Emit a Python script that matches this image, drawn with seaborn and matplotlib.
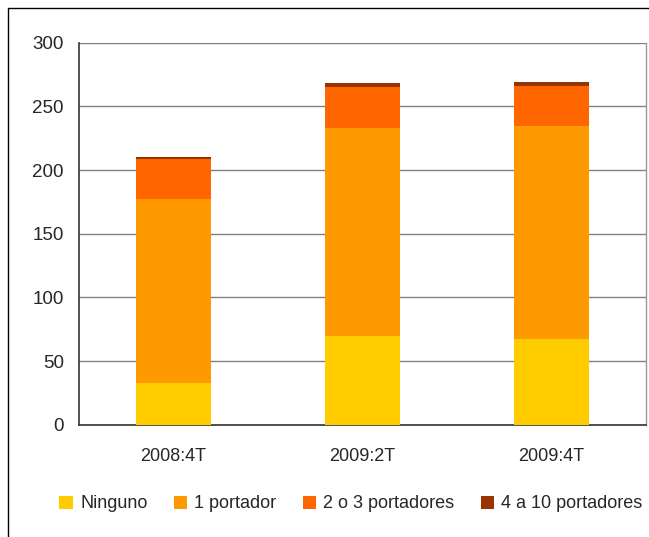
import matplotlib
matplotlib.use("Agg")
import matplotlib.pyplot as plt
import seaborn as sns
import numpy as np
import pandas as pd
from matplotlib.patches import Patch, Rectangle

periodos = ["2008:4T", "2009:2T", "2009:4T"]
series = ["Ninguno", "1 portador", "2 o 3 portadores", "4 a 10 portadores"]
ninguno = [33, 70, 67.3]
uno = [144.3, 163, 167.3]
dos_tres = [31.4, 32.2, 31.5]
cuatro_diez = [1.6, 3.1, 3.1]
colores = ["#FFCC00", "#FF9900", "#FF6600", "#993300"]
y_ticks = [0, 50, 100, 150, 200, 250, 300]

sns.set_style("white")
plt.rcParams["font.family"] = ["Liberation Sans", "DejaVu Sans"]

df = pd.DataFrame({"periodo": periodos, "Ninguno": ninguno, "1 portador": uno,
                   "2 o 3 portadores": dos_tres, "4 a 10 portadores": cuatro_diez})
acum = df[series].cumsum(axis=1)

fig = plt.figure(figsize=(6.49, 5.37), dpi=100)
ax = fig.add_axes([79 / 649, 1 - 424.7 / 537, (646 - 79) / 649, (424.7 - 42.7) / 537])

# draw from the top of the stack downwards so each segment overlays the next
for serie, color in reversed(list(zip(series, colores))):
    sns.barplot(x=df["periodo"], y=acum[serie], color=color, width=0.4,
                saturation=1, linewidth=0, edgecolor="none", ax=ax, zorder=3)

ax.set_ylim(0, 300)
ax.set_xlim(-0.5, 2.5)
ax.set_yticks(y_ticks)
ax.yaxis.grid(True, color="#808080", linewidth=1, zorder=0)
ax.set_xlabel("")
ax.set_ylabel("")

ax.set_xticks([0, 1, 2])
ax.set_xticklabels(periodos, fontsize=13)
ax.set_xticks([-0.5, 0.5, 1.5, 2.5], minor=True)
ax.tick_params(axis="x", which="major", length=0, pad=17)
ax.tick_params(axis="x", which="minor", length=5, width=1, color="#333333", direction="out")
ax.tick_params(axis="y", length=5, width=1, color="#333333", direction="out", labelsize=13.5, pad=6)

for lado in ["left", "bottom"]:
    ax.spines[lado].set_color("#333333")
    ax.spines[lado].set_linewidth(1.2)
ax.spines["top"].set_visible(False)
ax.spines["right"].set_color("#999999")
ax.spines["right"].set_linewidth(1)

handles = [Patch(facecolor=c, edgecolor="none", label=s) for s, c in zip(series, colores)]
fig.legend(handles=handles, loc="center", bbox_to_anchor=(351 / 649, 1 - 504 / 537),
           ncol=4, frameon=False, handlelength=0.75, handleheight=0.75,
           handletextpad=0.4, columnspacing=1.45,
           prop={"family": ["Liberation Sans", "DejaVu Sans"], "size": 13})

# outer chart border
fig.patches.append(Rectangle((8 / 649, -0.1), 1.2, 1 - 8 / 537 + 0.1, transform=fig.transFigure,
                             fill=False, edgecolor="#000000", linewidth=1))

fig.savefig("out.png", dpi=100)
